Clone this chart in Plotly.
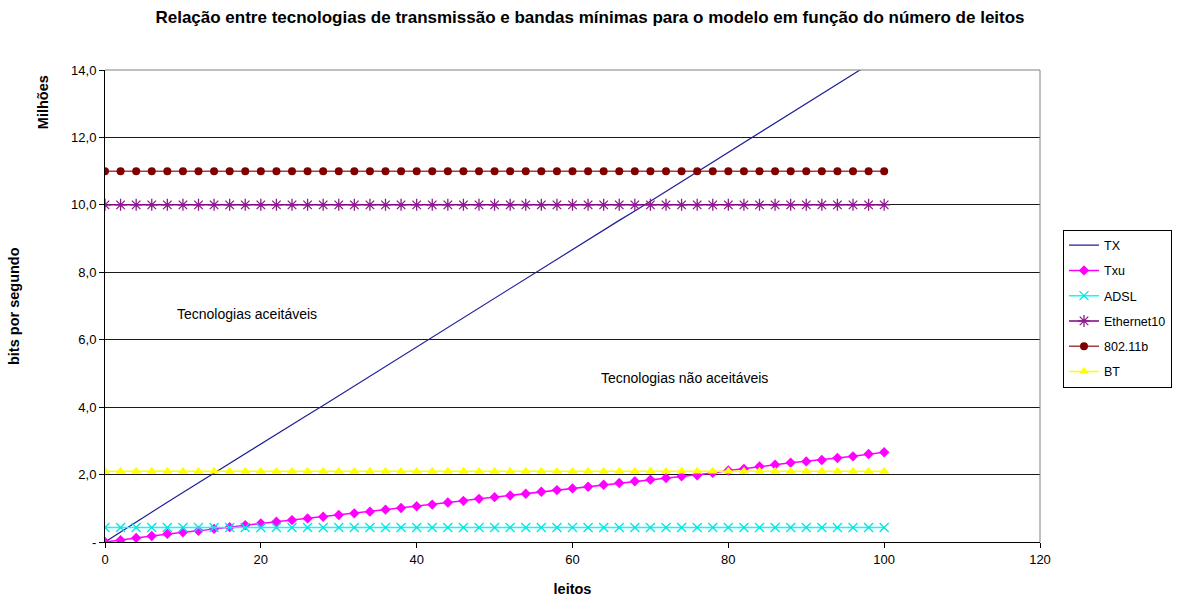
import plotly.graph_objects as go

leitos = list(range(0, 101, 2))

tx = [0, 0.30, 0.60, 0.89, 1.18, 1.47, 1.76, 2.04, 2.33, 2.61, 2.90, 3.19, 3.48, 3.77, 4.05,
      4.34, 4.63, 4.92, 5.21, 5.50, 5.79, 6.07, 6.36, 6.65, 6.94, 7.23, 7.51, 7.80, 8.09, 8.38,
      8.67, 8.96, 9.25, 9.54, 9.82, 10.11, 10.40, 10.69, 10.98, 11.27, 11.56, 11.85, 12.13,
      12.42, 12.71, 13.00, 13.29, 13.58, 13.87, 14.16, 14.45]

txu = [0, 0.05, 0.12, 0.18, 0.24, 0.29, 0.33, 0.39, 0.44, 0.50, 0.55, 0.60, 0.65, 0.70, 0.75,
       0.80, 0.85, 0.90, 0.96, 1.01, 1.06, 1.11, 1.17, 1.22, 1.28, 1.33, 1.38, 1.43, 1.49, 1.54,
       1.59, 1.64, 1.70, 1.75, 1.80, 1.85, 1.90, 1.95, 1.98, 2.05, 2.12, 2.17, 2.24, 2.29, 2.35,
       2.39, 2.43, 2.49, 2.54, 2.61, 2.66]

adsl = [0.43] * len(leitos)
ethernet10 = [10.0] * len(leitos)
wifi_80211b = [11.0] * len(leitos)
bt = [2.1] * len(leitos)

y_tickvals = [0, 2, 4, 6, 8, 10, 12, 14]
y_ticktext = ["-", "2,0", "4,0", "6,0", "8,0", "10,0", "12,0", "14,0"]
x_tickvals = [0, 20, 40, 60, 80, 100, 120]

FONT = "Liberation Sans, Arial, sans-serif"

fig = go.Figure()

fig.add_trace(go.Scatter(x=leitos, y=tx, name="TX", mode="lines", legendgroup="a",
                         line=dict(color="#1f1f9a", width=1.2)))
fig.add_trace(go.Scatter(x=leitos, y=txu, name="Txu", mode="lines+markers", legendgroup="b",
                         line=dict(color="#ff00ff", width=1.5),
                         marker=dict(symbol="diamond", size=8, color="#ff00ff")))
fig.add_trace(go.Scatter(x=leitos, y=adsl, name="ADSL", mode="lines+markers", legendgroup="c",
                         line=dict(color="#00ffff", width=1.5),
                         marker=dict(symbol="x-thin-open", size=9, color="#00e5e5",
                                     line=dict(color="#00e5e5", width=1.3))))
fig.add_trace(go.Scatter(x=leitos, y=ethernet10, name="Ethernet10", mode="lines+markers", legendgroup="d",
                         line=dict(color="#800080", width=1.5),
                         marker=dict(symbol="asterisk-open", size=10, color="#8b1a8b",
                                     line=dict(color="#8b1a8b", width=1.3))))
fig.add_trace(go.Scatter(x=leitos, y=wifi_80211b, name="802.11b", mode="lines+markers", legendgroup="e",
                         line=dict(color="#a04040", width=1.5),
                         marker=dict(symbol="circle", size=8, color="#800000")))
fig.add_trace(go.Scatter(x=leitos, y=bt, name="BT", mode="lines+markers", legendgroup="f",
                         line=dict(color="#ffff00", width=1.5),
                         marker=dict(symbol="triangle-up", size=9, color="#ffff00")))

fig.update_layout(
    width=1180, height=598,
    margin=dict(l=105, r=140, t=70, b=56, autoexpand=False),
    paper_bgcolor="white", plot_bgcolor="white",
    font=dict(family=FONT, size=13, color="black"),
    title=dict(text="<b>Relação entre tecnologias de transmissão e bandas mínimas para o modelo em função do número de leitos</b>",
               x=0.5, xanchor="center", xref="container", y=0.9716, yanchor="middle", yref="container",
               font=dict(family=FONT, size=17, color="black")),
    showlegend=True,
    legend=dict(x=1.0246, y=0.662, xanchor="left", yanchor="top",
                bordercolor="black", borderwidth=1, bgcolor="white",
                font=dict(family=FONT, size=12.5), traceorder="grouped",
                tracegroupgap=6, itemwidth=30),
    xaxis=dict(range=[0, 120], tickvals=x_tickvals, ticks="outside", ticklen=5,
               tickcolor="black", showline=True, linecolor="black", linewidth=1,
               showgrid=False, zeroline=False, tickfont=dict(size=13), automargin=False,
               title=dict(text="<b>leitos</b>", font=dict(size=14.5), standoff=18)),
    yaxis=dict(range=[0, 14], tickvals=y_tickvals, ticktext=y_ticktext, ticks="outside",
               ticklen=5, tickcolor="black", showline=True, linecolor="black", linewidth=1,
               showgrid=True, gridcolor="#1a1a1a", gridwidth=1, zeroline=False,
               tickfont=dict(size=13), automargin=False),
    shapes=[
        dict(type="line", xref="x domain", yref="y domain", x0=0, x1=1, y0=1, y1=1,
             line=dict(color="#808080", width=1)),
        dict(type="line", xref="x domain", yref="y domain", x0=1, x1=1, y0=0, y1=1,
             line=dict(color="#808080", width=1)),
    ],
    annotations=[
        dict(text="<b>bits por segundo</b>", xref="paper", yref="paper", x=-0.108, y=0.5,
             textangle=-90, showarrow=False, font=dict(size=14.5)),
        dict(text="<b>Milhões</b>", xref="paper", yref="paper", x=-0.0777, y=0.994,
             textangle=-90, showarrow=False, font=dict(size=14.5)),
        dict(text="Tecnologias aceitáveis", x=18.2, y=6.76, showarrow=False,
             font=dict(size=14)),
        dict(text="Tecnologias não aceitáveis", x=74.4, y=4.86, showarrow=False,
             font=dict(size=14)),
    ],
)

fig.write_html("out.html", config={"displayModeBar": False},
               post_script="document.body.style.margin='0';document.body.style.overflow='hidden';")
